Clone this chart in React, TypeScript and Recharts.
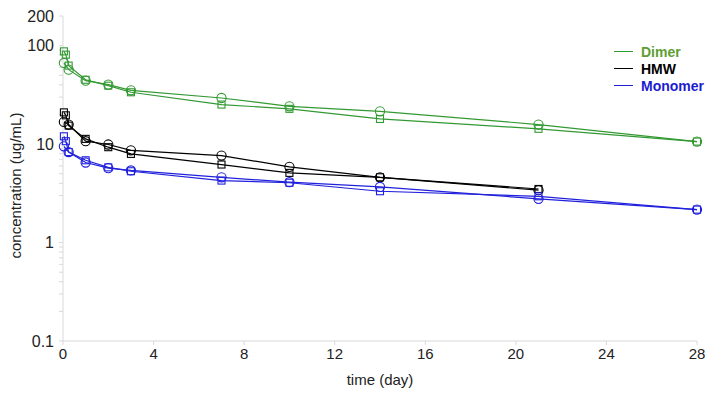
import React from "react";
import { LineChart, Line, XAxis, YAxis } from "recharts";

// sampling times (day)
const circleDays = [0.04, 0.25, 1, 2, 3, 7, 10, 14, 21, 28];
const squareDays = [0.04, 0.125, 0.25, 1, 2, 3, 7, 10, 14, 21, 28];

const dimerCircle = [66.7, 57, 44.1, 40.2, 35.2, 29.4, 24.2, 21.5, 15.8, 10.6];
const dimerSquare = [87.5, 81, 62.7, 45, 39.2, 33.6, 25.2, 22.8, 18, 14.3, 10.6];
const hmwCircle = [16.8, 15.8, 10.7, 9.9, 8.65, 7.65, 5.87, 4.6, 3.4, null];
const hmwSquare = [21, 19.6, 15.4, 11.3, 9.3, 7.95, 6.2, 5.1, 4.6, 3.5, null];
const monoCircle = [9.5, 8.3, 6.5, 5.7, 5.4, 4.6, 4.1, 3.67, 2.78, 2.16];
const monoSquare = [12, 10.7, 8.3, 6.85, 5.8, 5.3, 4.26, 4.05, 3.32, 2.95, 2.16];

const xTicks = [0, 4, 8, 12, 16, 20, 24, 28];
const yMajor = [0.1, 1, 10, 100, 200];
const yTicks = [
  0.1, 0.2, 0.3, 0.4, 0.5, 0.6, 0.7, 0.8, 0.9,
  1, 2, 3, 4, 5, 6, 7, 8, 9,
  10, 20, 30, 40, 50, 60, 70, 80, 90,
  100, 200,
];

const legendItems = [
  { name: "Dimer", line: "#339933", text: "#5e9e32" },
  { name: "HMW", line: "#000000", text: "#000000" },
  { name: "Monomer", line: "#2020dd", text: "#1c1ccf" },
];

const toPoints = (days: number[], vals: (number | null)[]) =>
  days.map((d, i) => ({ day: d, value: vals[i] }));

const series = [
  { id: "dimerC", color: "#339933", shape: "circle", data: toPoints(circleDays, dimerCircle) },
  { id: "dimerS", color: "#339933", shape: "square", data: toPoints(squareDays, dimerSquare) },
  { id: "hmwC", color: "#000000", shape: "circle", data: toPoints(circleDays, hmwCircle) },
  { id: "hmwS", color: "#000000", shape: "square", data: toPoints(squareDays, hmwSquare) },
  { id: "monoC", color: "#2020dd", shape: "circle", data: toPoints(circleDays, monoCircle) },
  { id: "monoS", color: "#2020dd", shape: "square", data: toPoints(squareDays, monoSquare) },
];

const font = "'Liberation Sans', Arial, sans-serif";

function makeDot(shape: string, color: string) {
  return (props: any) => {
    const { cx, cy, index } = props;
    if (cx == null || cy == null || props.value == null) return <g key={index} />;
    if (shape === "square") {
      return (
        <rect key={index} x={cx - 3.5} y={cy - 3.5} width={7} height={7}
          fill="none" stroke={color} strokeWidth={1.1} />
      );
    }
    return <circle key={index} cx={cx} cy={cy} r={4.6} fill="none" stroke={color} strokeWidth={1.1} />;
  };
}

export default function App() {
  return (
    <div style={{ position: "absolute", left: 0, top: 0, width: 713, height: 400, background: "#fff" }}>
      <LineChart width={713} height={400} margin={{ top: 16, right: 16, left: 8, bottom: 19 }}>
        <XAxis
          type="number"
          dataKey="day"
          domain={[0, 28]}
          ticks={xTicks}
          allowDuplicatedCategory={false}
          stroke="#d9d9d9"
          tickSize={4}
          tickMargin={3}
          tick={{ fill: "#222", fontSize: 15, fontFamily: font }}
          height={40}
          label={{ value: "time (day)", position: "insideBottom", offset: -4, fill: "#222", fontSize: 15, fontFamily: font }}
        />
        <YAxis
          scale="log"
          domain={[0.1, 200]}
          allowDataOverflow
          ticks={yTicks}
          interval={0}
          width={55}
          stroke="#d9d9d9"
          tickSize={4}
          tickMargin={5}
          tickFormatter={(v: number) => (yMajor.includes(v) ? String(v) : "")}
          tick={{ fill: "#222", fontSize: 16, fontFamily: font }}
          label={{ value: "concentration (ug/mL)", angle: -90, position: "insideLeft", offset: 8, dy: 80, fill: "#222", fontSize: 15, fontFamily: font }}
        />
        {series.map((s) => (
          <Line
            key={s.id}
            data={s.data}
            dataKey="value"
            type="linear"
            stroke={s.color}
            strokeWidth={1.2}
            dot={makeDot(s.shape, s.color)}
            activeDot={false}
            isAnimationActive={false}
            legendType="none"
          />
        ))}
      </LineChart>
      <div style={{ position: "absolute", left: 614, top: 43, fontFamily: font, fontWeight: "bold", fontSize: 14 }}>
        {legendItems.map((it) => (
          <div key={it.name} style={{ display: "flex", alignItems: "center", height: 17 }}>
            <span style={{ display: "inline-block", width: 19, height: 0, borderTop: `1.5px solid ${it.line}`, marginRight: 8 }} />
            <span style={{ color: it.text }}>{it.name}</span>
          </div>
        ))}
      </div>
    </div>
  );
}
